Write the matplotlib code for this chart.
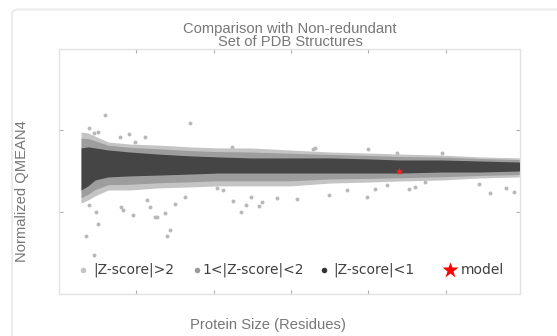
import matplotlib
matplotlib.use('Agg')
from matplotlib import pyplot as plt
from matplotlib.patches import FancyBboxPatch

# envelopes of the dense clouds (protein size vs normalized QMEAN4)
band_x = [58, 76, 94, 128, 184, 257, 340, 412, 494, 598, 701, 804, 881, 990, 1088, 1190]
dark_hi = [0.713, 0.718, 0.713, 0.703, 0.693, 0.683, 0.674, 0.669, 0.664, 0.664, 0.664, 0.659, 0.654, 0.654, 0.649, 0.644]
dark_lo = [0.507, 0.527, 0.556, 0.571, 0.576, 0.580, 0.585, 0.590, 0.590, 0.590, 0.590, 0.590, 0.590, 0.595, 0.595, 0.600]
mid_hi = [0.760, 0.759, 0.748, 0.726, 0.716, 0.709, 0.700, 0.695, 0.693, 0.687, 0.681, 0.676, 0.671, 0.668, 0.661, 0.656]
mid_lo = [0.469, 0.486, 0.509, 0.533, 0.535, 0.542, 0.547, 0.552, 0.552, 0.552, 0.561, 0.564, 0.567, 0.572, 0.578, 0.583]
fringe_hi = [0.791, 0.786, 0.771, 0.742, 0.732, 0.727, 0.718, 0.713, 0.713, 0.703, 0.693, 0.688, 0.683, 0.678, 0.669, 0.664]
fringe_lo = [0.443, 0.458, 0.478, 0.507, 0.507, 0.517, 0.522, 0.527, 0.527, 0.527, 0.541, 0.546, 0.551, 0.556, 0.566, 0.571]

# |Z-score|>2 outliers
out_x = [121, 339, 79, 102, 91, 182, 158, 222, 197, 63, 78, 96, 103, 72, 91, 288, 281,
         162, 166, 192, 248, 255, 229, 236, 274, 300, 326, 451, 470, 484, 518, 526, 496,
         563, 616, 698, 745, 796, 662, 447, 408, 425, 818, 848, 904, 920, 947, 1115, 1155,
         1175, 1085, 990, 874, 798, 656]
out_y = [0.876, 0.834, 0.809, 0.792, 0.788, 0.781, 0.765, 0.768, 0.744, 0.458, 0.433, 0.401,
         0.340, 0.283, 0.190, 0.312, 0.283, 0.425, 0.409, 0.385, 0.376, 0.373, 0.458, 0.425,
         0.393, 0.438, 0.474, 0.455, 0.401, 0.432, 0.429, 0.447, 0.474, 0.466, 0.464, 0.482,
         0.507, 0.474, 0.711, 0.719, 0.515, 0.507, 0.510, 0.531, 0.510, 0.520, 0.548, 0.491,
         0.515, 0.499, 0.535, 0.687, 0.687, 0.708, 0.708]

model_x = [878]
model_y = [0.600]

x_ticks = [200, 400, 600, 800, 1000]
y_ticks = [0.4, 0.8]

fig = plt.figure(figsize=(5.57, 3.36), dpi=100)
fig.patches.append(FancyBboxPatch((12 / 557, -0.2), 1.2, 0.2 + 1 - 9.5 / 336,
                                  boxstyle='round,pad=0,rounding_size=0.012',
                                  transform=fig.transFigure, fc='white',
                                  ec='#ebebeb', lw=1.5, zorder=-5))

ax = fig.add_axes([58.6 / 557, 1 - 293.5 / 336, 460.9 / 557, 245 / 336])
ax.scatter(out_x, out_y, s=8, color='#b8b8b8', lw=0, zorder=1)
ax.fill_between(band_x, fringe_lo, fringe_hi, color='#c4c4c4', lw=0, zorder=2)
ax.fill_between(band_x, mid_lo, mid_hi, color='#9d9d9d', lw=0, zorder=2)
ax.fill_between(band_x, dark_lo, dark_hi, color='#454545', lw=0, zorder=3)
ax.plot(model_x, model_y, '*', color='#ff2020', ms=6, mec='none', zorder=4)

ax.set_xlim(0, 1190)
ax.set_ylim(0, 1.2)
ax.set_xticks(x_ticks)
ax.set_yticks(y_ticks)
ax.tick_params(direction='in', length=3, width=0.8, color='#b0b0b0',
               top=True, right=True, labelbottom=False, labelleft=False)
for s in ax.spines.values():
    s.set_color('#e3e3e3')
    s.set_linewidth(1.0)

# legend drawn in axes coordinates
ly = 0.096
leg = [(0.053, 0.0746, 'o', '#c4c4c4', 4, '|Z-score|>2'),
       (0.300, 0.313, 'o', '#999999', 4, '1<|Z-score|<2'),
       (0.576, 0.5954, 'o', '#333333', 4, '|Z-score|<1'),
       (0.849, 0.873, '*', '#ff0000', 12, 'model')]
for mx, tx, mk, c, ms, lab in leg:
    ax.plot([mx], [ly], mk, color=c, ms=ms, mec='none', transform=ax.transAxes, clip_on=False)
    ax.text(tx, ly, lab, transform=ax.transAxes, va='center', ha='left',
            fontsize=10, color='#404040', family='DejaVu Sans')

lab_kw = dict(family='Liberation Sans', fontsize=10.6, color='#777777')
fig.text(0.5206, 0.9137, 'Comparison with Non-redundant', ha='center', va='center', **lab_kw)
fig.text(0.5206, 0.875, 'Set of PDB Structures', ha='center', va='center', **lab_kw)
fig.text(0.4811, 0.0327, 'Protein Size (Residues)', ha='center', va='center', **lab_kw)
fig.text(0.0395, 0.430, 'Normalized QMEAN4', ha='center', va='center', rotation=90, **lab_kw)

fig.savefig('out.png', dpi=100)
